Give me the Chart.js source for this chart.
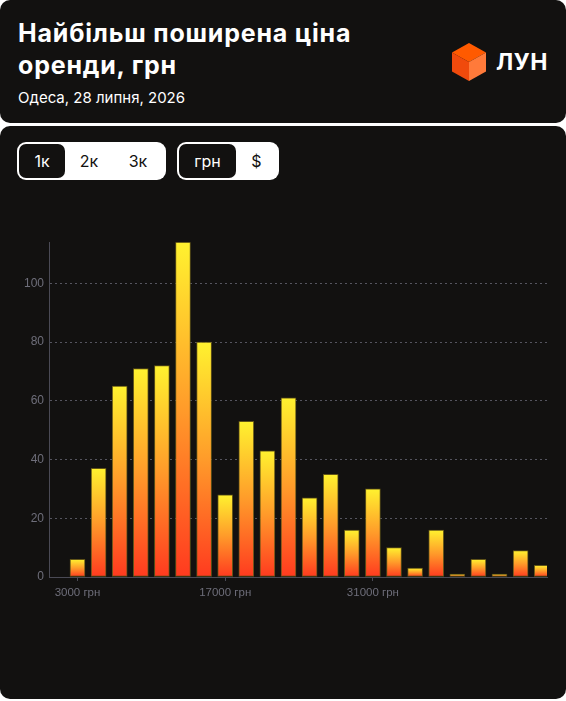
<!DOCTYPE html>
<html lang="uk">
<head>
<meta charset="utf-8">
<script src="https://cdn.jsdelivr.net/npm/chart.js@4"></script>
<style>
    html, body { margin: 0; padding: 0; background: #fff; }
    body { width: 566px; height: 701px; position: relative; font-family: Inter, "Noto Sans", sans-serif; overflow: hidden; }
    .card { position: absolute; left: 0; width: 566px; background: #121110; border-radius: 10px; }
    .head { top: 0; height: 123px; }
    .body { top: 126px; height: 573px; }
    .title { position: absolute; left: 18px; top: 17px; color: #fff; font-weight: 700; font-size: 25px; line-height: 32px; letter-spacing: 0.8px; }
    .date { position: absolute; left: 18px; top: 88px; color: #fff; font-size: 15px; }
    .logo { position: absolute; left: 452px; top: 43px; display: flex; align-items: center; }
    .logo span { color: #fff; font-weight: 700; font-size: 23px; margin-left: 10px; letter-spacing: 0.5px; }
    .toggle { position: absolute; top: 16px; height: 38px; background: #fff; border-radius: 9px; box-sizing: border-box; padding: 2px; display: flex; }
    .toggle div { height: 34px; line-height: 34px; font-size: 16px; color: #121110; text-align: center; border-radius: 7px; }
    .toggle div.on { background: #121110; color: #fff; }
    .chart-box { position: absolute; left: 0; top: 230px; width: 566px; height: 380px; }
</style>
</head>
<body>
<div class="card head">
    <div class="title">Найбільш поширена ціна<br>оренди, грн</div>
    <div class="date">Одеса, 28 липня, 2026</div>
    <div class="logo">
        <svg width="34" height="38" viewBox="0 0 34 38">
            <polygon points="17,0 34,9.5 17,19 0,9.5" fill="#ff5a00"/>
            <polygon points="0,9.5 17,19 17,38 0,28.5" fill="#f04a0c"/>
            <polygon points="34,9.5 17,19 17,38 34,28.5" fill="#ff7a3a"/>
        </svg>
        <span>ЛУН</span>
    </div>
</div>
<div class="card body">
    <div class="toggle" style="left:17px; width:149px;">
        <div class="on" style="width:46px;">1к</div>
        <div style="width:48px;">2к</div>
        <div style="width:50px;">3к</div>
    </div>
    <div class="toggle" style="left:177px; width:102px;">
        <div class="on" style="width:57px;">грн</div>
        <div style="width:41px;">$</div>
    </div>
</div>
<div class="chart-box"><canvas id="priceChart"></canvas></div>

<script>
// Ціни (центри інтервалів), грн
const prices = [3000, 5000, 7000, 9000, 11000, 13000, 15000, 17000, 19000, 21000, 23000, 25000,
    27000, 29000, 31000, 33000, 35000, 37000, 39000, 41000, 43000, 45000, 47000];
// Кількість оголошень
const counts = [6, 37, 65, 71, 72, 114, 80, 28, 53, 43, 61, 27, 35, 16, 30, 10, 3, 16, 1, 6, 1, 9, 4];
// Підписи осі X
const xTicks = [3000, 17000, 31000];

const tickColor = '#6e6e7a';
const lineColor = '#4a4a55';

/**
 * Градієнт для кожного стовпчика: жовтий зверху, червоно-помаранчевий знизу.
 */
function barGradient(context) {
    const chart = context.chart;
    const y = chart.scales.y;
    if (!y || !context.parsed) return '#ff9a2a';
    const top = y.getPixelForValue(context.parsed.y);
    const base = y.getPixelForValue(0);
    if (!isFinite(top) || !isFinite(base)) return '#ff9a2a';
    const g = chart.ctx.createLinearGradient(0, top, 0, Math.max(base, top + 1));
    g.addColorStop(0, '#fff22f');
    g.addColorStop(0.5, '#ff9b2a');
    g.addColorStop(1, '#ff3a1f');
    return g;
}

new Chart(document.getElementById('priceChart'), {
    type: 'bar',
    data: {
        datasets: [{
            data: prices.map((p, i) => ({ x: p, y: counts[i] })),
            backgroundColor: barGradient,
            borderColor: 'rgba(110, 95, 25, 0.85)',
            borderWidth: 1,
            borderSkipped: false,
            barThickness: 15
        }]
    },
    options: {
        responsive: true,
        maintainAspectRatio: false,
        animation: false,
        layout: { padding: { left: 0, right: 19, top: 12, bottom: 0 } },
        plugins: { legend: { display: false }, tooltip: { enabled: false } },
        scales: {
            x: {
                type: 'linear',
                offset: false,
                min: 300,
                max: 47500,
                afterBuildTicks: s => { s.ticks = xTicks.map(v => ({ value: v })); },
                afterFit: s => { s.height = 33; },
                grid: { offset: false, drawOnChartArea: false, color: lineColor, tickColor: lineColor, tickLength: 4 },
                border: { color: lineColor, width: 1 },
                ticks: {
                    color: tickColor,
                    padding: 5,
                    maxRotation: 0,
                    font: { family: 'Liberation Sans', size: 11.5 },
                    callback: v => v + ' грн'
                }
            },
            y: {
                min: 0,
                max: Math.max(...counts),
                afterBuildTicks: s => { s.ticks = s.ticks.filter(t => t.value % 20 === 0); },
                afterFit: s => { s.width = 49; },
                grid: {
                    color: c => c.tick.value === 0 ? 'transparent' : '#55555f',
                    drawTicks: false
                },
                border: { color: lineColor, width: 1, dash: [2, 3] },
                ticks: {
                    stepSize: 20,
                    color: tickColor,
                    padding: 5,
                    font: { family: 'Liberation Sans', size: 12 }
                }
            }
        }
    }
});
</script>
</body>
</html>
